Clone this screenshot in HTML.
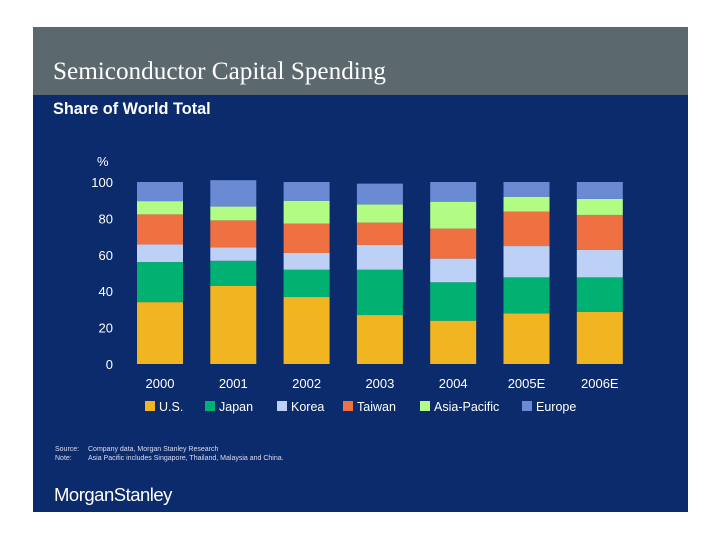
<!DOCTYPE html>
<html><head><meta charset="utf-8"><style>
body{margin:0;width:720px;height:540px;background:#fff;position:relative;overflow:hidden;font-family:"Liberation Sans",sans-serif}
#slide{position:absolute;left:33px;top:27px;width:655px;height:485px;background:#0b2b6d}
#band{position:absolute;left:0;top:0;width:655px;height:68px;background:#5b686d}
</style></head><body>
<div id="slide">
<div id="band">
<div style="position:absolute;left:20px;top:31px;font-family:'Liberation Serif',serif;font-size:25.2px;color:#fff">Semiconductor Capital Spending</div>
</div>
<div style="position:absolute;left:20px;top:73px;font-weight:bold;font-size:16.3px;color:#fff">Share of World Total</div>
<div style="position:absolute;left:22px;top:418px;font-size:7px;color:#dde;line-height:9px">
<span style="display:inline-block;width:33px">Source:</span>Company data, Morgan Stanley Research<br>
<span style="display:inline-block;width:33px">Note:</span>Asia Pacific includes Singapore, Thailand, Malaysia and China.</div>
<div style="position:absolute;left:21px;top:457px;font-size:18.5px;color:#fff;letter-spacing:-0.5px">MorganStanley</div>
</div>
<svg id="chart" width="720" height="540" style="position:absolute;left:0;top:0"></svg>
<script>
const categories=["2000","2001","2002","2003","2004","2005E","2006E"];
const seriesNames=["U.S.","Japan","Korea","Taiwan","Asia-Pacific","Europe"];
const us=[34,43,36.8,26.9,23.8,27.8,28.6];
const japan=[22,13.7,15,24.9,21.1,19.8,19];
const korea=[9.7,7.3,9.2,13.6,13,17.2,15.2];
const taiwan=[16.5,14.9,16.1,12.3,16.5,18.9,19.1];
const asiaPacific=[7.3,7.6,12.6,10,14.8,8.2,8.8];
const europe=[10.5,14.5,10.3,11.4,10.8,8.1,9.3];
const yTicks=[0,20,40,60,80,100];
const colors=["#f1b521","#00b172","#bdd1f7","#ef7142","#b3fc84","#6a8bd3"];
const series=[us,japan,korea,taiwan,asiaPacific,europe];
const svg=document.getElementById('chart');const NS='http://www.w3.org/2000/svg';
const y=v=>364-v*1.82;const x=i=>137+i*73.3;const bw=46;
function mk(t,a){const e=document.createElementNS(NS,t);for(const k in a)e.setAttribute(k,a[k]);svg.appendChild(e);return e;}
yTicks.forEach(t=>{const e=mk('text',{x:113,y:y(t)+5,'text-anchor':'end','font-size':13,fill:'#fff','font-family':'Liberation Sans'});e.textContent=t;

});
const pc=mk('text',{x:97,y:166,'font-size':13,fill:'#fff','font-family':'Liberation Sans'});pc.textContent='%';


categories.forEach((c,i)=>{let base=0;series.forEach((s,j)=>{const r=mk('rect',{x:x(i),y:y(base+s[i]),width:bw,height:s[i]*1.82,fill:colors[j]});

base+=s[i];});
const t=mk('text',{x:x(i)+bw/2,y:388,'text-anchor':'middle','font-size':13,fill:'#fff','font-family':'Liberation Sans'});t.textContent=c;

});
const lx=[145,205,277,343,420,522];
seriesNames.forEach((n,j)=>{const r=mk('rect',{x:lx[j],y:401,width:10,height:10,fill:colors[j]});


const t=mk('text',{x:lx[j]+14,y:411,'font-size':12.5,fill:'#fff','font-family':'Liberation Sans'});t.textContent=n;

});
</script>
</body></html>
